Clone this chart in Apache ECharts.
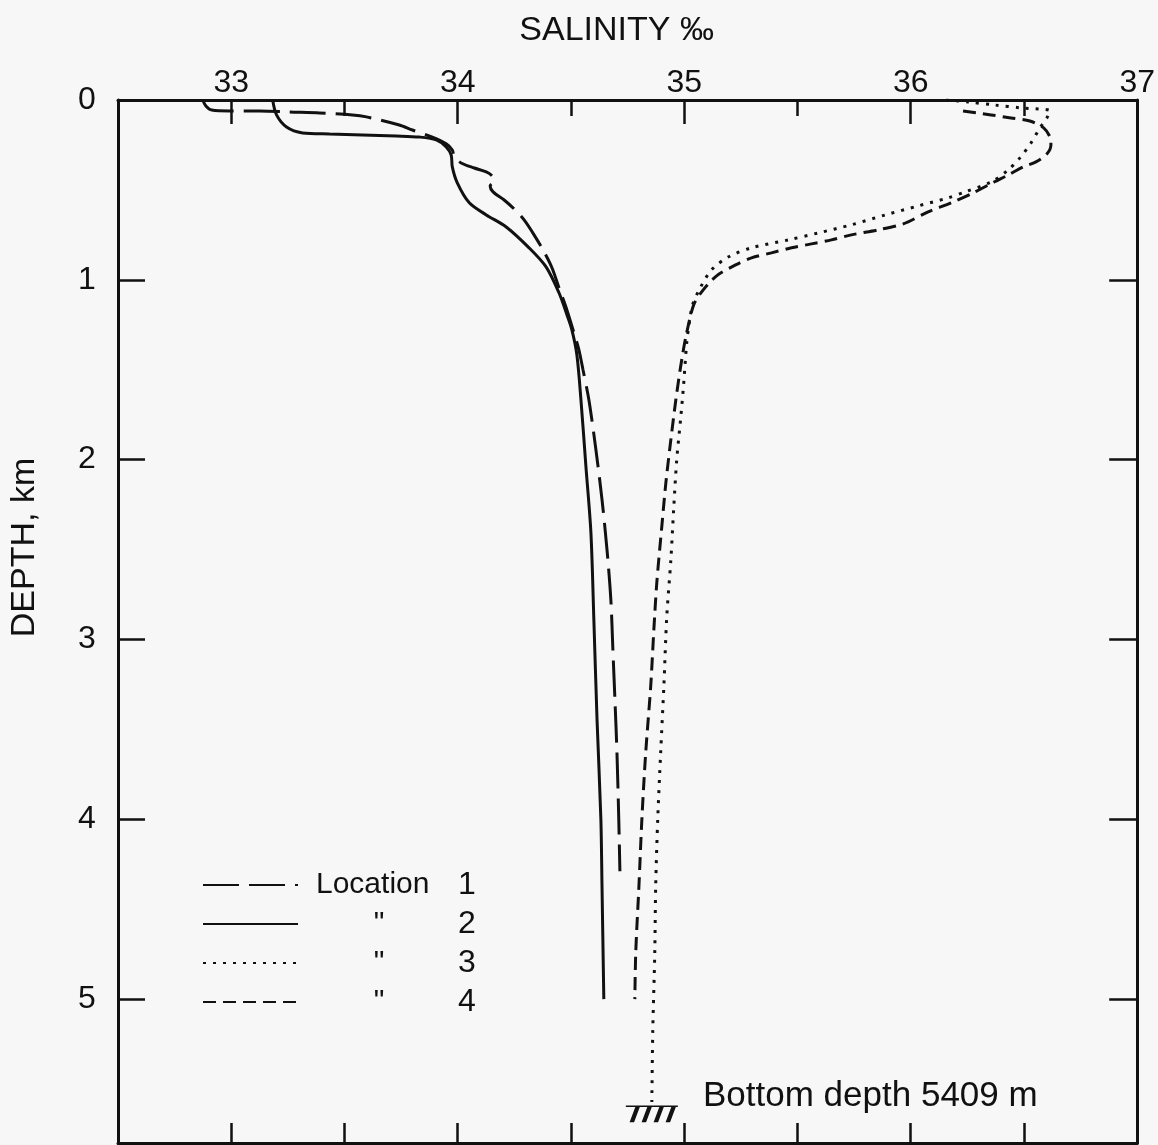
<!DOCTYPE html>
<html>
<head>
<meta charset="utf-8">
<script src="https://cdn.jsdelivr.net/npm/echarts@6/dist/echarts.min.js"></script>
<style>
  html, body { margin: 0; padding: 0; background: #f7f7f7; }
  #main { width: 1158px; height: 1145px; }
</style>
</head>
<body>
<div id="main"></div>
<script>
// ticks
const salinityLabels = [33, 34, 35, 36, 37];
const salinityMajor = [33, 34, 35, 36];
const salinityMinor = [33.5, 34.5, 35.5, 36.5];
const salinityBottom = [33, 33.5, 34, 34.5, 35, 35.5, 36, 36.5];
const depthLabels = [0, 1, 2, 3, 4, 5];
const depthTicks = [1, 2, 3, 4, 5];

// Location 1 (long dash)
const loc1Salinity = [32.874, 32.888, 32.914, 32.993, 33.126, 33.258, 33.39, 33.535, 33.597, 33.742, 33.80, 33.888, 33.949, 33.976, 33.985, 34.015, 34.073, 34.126, 34.152, 34.161, 34.143, 34.156, 34.205, 34.249, 34.293, 34.337, 34.381, 34.416, 34.447, 34.482, 34.513, 34.535, 34.553, 34.579, 34.61, 34.637, 34.659, 34.676, 34.685, 34.694, 34.703, 34.711, 34.716];
const loc1Depth = [0, 0.033, 0.056, 0.061, 0.061, 0.067, 0.072, 0.083, 0.094, 0.139, 0.167, 0.206, 0.244, 0.278, 0.317, 0.35, 0.378, 0.40, 0.422, 0.45, 0.478, 0.511, 0.556, 0.606, 0.667, 0.75, 0.844, 0.933, 1.044, 1.167, 1.294, 1.389, 1.50, 1.667, 1.944, 2.222, 2.50, 2.778, 3.056, 3.333, 3.628, 4.0, 4.289];

// Location 2 (solid)
const loc2Salinity = [33.183, 33.20, 33.244, 33.315, 33.434, 33.579, 33.729, 33.83, 33.905, 33.949, 33.971, 33.976, 33.998, 34.051, 34.126, 34.214, 34.315, 34.39, 34.447, 34.482, 34.504, 34.526, 34.544, 34.566, 34.588, 34.601, 34.615, 34.632, 34.637, 34.645];
const loc2Depth = [0, 0.083, 0.15, 0.183, 0.189, 0.194, 0.20, 0.206, 0.222, 0.261, 0.306, 0.372, 0.461, 0.572, 0.639, 0.706, 0.822, 0.928, 1.072, 1.194, 1.278, 1.417, 1.667, 2.039, 2.406, 2.889, 3.444, 4.0, 4.372, 5.0];

// Location 3 (dotted)
const loc3Salinity = [36.156, 36.253, 36.372, 36.487, 36.615, 36.601, 36.57, 36.531, 36.482, 36.43, 36.355, 36.24, 36.165, 36.033, 35.888, 35.738, 35.593, 35.46, 35.297, 35.196, 35.121, 35.073, 35.037, 35.02, 35.011, 34.998, 34.985, 34.967, 34.954, 34.941, 34.923, 34.91, 34.896, 34.883, 34.874, 34.87, 34.861, 34.857];
const loc3Depth = [0, 0.011, 0.028, 0.044, 0.061, 0.10, 0.156, 0.239, 0.322, 0.389, 0.456, 0.511, 0.544, 0.589, 0.639, 0.694, 0.739, 0.778, 0.822, 0.872, 0.944, 1.039, 1.139, 1.261, 1.35, 1.572, 1.761, 2.0, 2.261, 2.556, 2.872, 3.261, 3.628, 4.0, 4.372, 4.739, 5.183, 5.572];

// Location 4 (short dash)
const loc4Salinity = [36.231, 36.355, 36.443, 36.526, 36.588, 36.615, 36.619, 36.601, 36.553, 36.496, 36.43, 36.368, 36.275, 36.178, 36.077, 35.967, 35.857, 35.738, 35.65, 35.562, 35.474, 35.385, 35.297, 35.227, 35.143, 35.077, 35.042, 35.011, 34.989, 34.963, 34.941, 34.919, 34.901, 34.879, 34.866, 34.852, 34.83, 34.813, 34.80, 34.786, 34.782];
const loc4Depth = [0.061, 0.083, 0.10, 0.117, 0.156, 0.206, 0.25, 0.30, 0.344, 0.372, 0.417, 0.456, 0.517, 0.572, 0.622, 0.689, 0.722, 0.75, 0.778, 0.80, 0.822, 0.85, 0.878, 0.917, 0.978, 1.067, 1.139, 1.294, 1.444, 1.667, 1.889, 2.128, 2.372, 2.683, 2.944, 3.261, 3.628, 4.0, 4.372, 4.739, 5.0];

// sea bottom mark
const bottomSalinity = 34.857;
const bottomDepth = 5.64;

const ink = '#111';
const font = 'Liberation Sans';

function pairs(xs, ys) {
    return xs.map(function (x, i) { return [x, ys[i]]; });
}

function lineSeries(name, xs, ys, type) {
    return {
        name: name,
        type: 'line',
        data: pairs(xs, ys),
        symbol: 'none',
        showSymbol: false,
        smooth: 0.3,
        silent: true,
        itemStyle: { color: ink },
        lineStyle: { color: ink, width: 3, type: type }
    };
}

var xBase = { type: 'value', min: 32.5, max: 37, splitLine: { show: false } };
var yBase = { type: 'value', min: 0, max: 5.8, inverse: true, splitLine: { show: false } };
var axisLineStyle = { show: true, onZero: false, lineStyle: { color: ink, width: 3 } };

var series = [
    lineSeries('Location 1', loc1Salinity, loc1Depth, [36, 10]),
    lineSeries('Location 2', loc2Salinity, loc2Depth, 'solid'),
    lineSeries('Location 3', loc3Salinity, loc3Depth, [3, 7]),
    lineSeries('Location 4', loc4Salinity, loc4Depth, [13, 7])
];
series[2].markPoint = {
    silent: true,
    symbol: 'path://M0,0 L52,0 M12,0 L6,16 M24,0 L18,16 M36,0 L30,16 M48,0 L42,16',
    symbolSize: [52, 16],
    itemStyle: { color: 'none', borderColor: ink, borderWidth: 2.5 },
    label: { show: false },
    data: [{ coord: [bottomSalinity, bottomDepth] }]
};

var option = {
    backgroundColor: '#f7f7f7',
    animation: false,
    textStyle: { fontFamily: font, color: ink },
    grid: { left: 118, right: 18, top: 100, bottom: 2 },
    xAxis: [
        Object.assign({}, xBase, {
            position: 'top',
            name: 'SALINITY ‰',
            nameLocation: 'middle',
            nameGap: 52,
            nameTextStyle: { fontSize: 34, color: ink, fontFamily: font, padding: [0, 22, 0, 0] },
            axisLine: axisLineStyle,
            axisTick: { show: true, inside: true, length: 24, customValues: salinityMajor, lineStyle: { color: ink, width: 2.5 } },
            axisLabel: { show: true, customValues: salinityLabels, fontSize: 32, color: ink, fontFamily: font, margin: 1 }
        }),
        Object.assign({}, xBase, {
            position: 'bottom',
            axisLine: axisLineStyle,
            axisTick: { show: true, inside: true, length: 20, customValues: salinityBottom, lineStyle: { color: ink, width: 2.5 } },
            axisLabel: { show: false }
        }),
        Object.assign({}, xBase, {
            position: 'top',
            axisLine: { show: false, onZero: false },
            axisTick: { show: true, inside: true, length: 16, customValues: salinityMinor, lineStyle: { color: ink, width: 2.5 } },
            axisLabel: { show: false }
        })
    ],
    yAxis: [
        Object.assign({}, yBase, {
            position: 'left',
            name: 'DEPTH, km',
            nameLocation: 'middle',
            nameGap: 76,
            nameTextStyle: { fontSize: 34, color: ink, fontFamily: font, padding: [0, 0, 0, 148] },
            axisLine: axisLineStyle,
            axisTick: { show: true, inside: true, length: 27, customValues: depthTicks, lineStyle: { color: ink, width: 2.5 } },
            axisLabel: { show: true, customValues: depthLabels, fontSize: 32, color: ink, fontFamily: font, align: 'center', margin: 31, padding: [7, 0, 0, 0] }
        }),
        Object.assign({}, yBase, {
            position: 'right',
            axisLine: axisLineStyle,
            axisTick: { show: true, inside: true, length: 28, customValues: depthTicks, lineStyle: { color: ink, width: 2.5 } },
            axisLabel: { show: false }
        })
    ],
    legend: {
        orient: 'vertical',
        left: 197,
        top: 864,
        itemWidth: 95,
        itemHeight: 14,
        itemGap: 7,
        selectedMode: false,
        itemStyle: { opacity: 0 },
        textStyle: {
            fontSize: 32,
            fontFamily: font,
            color: ink,
            rich: {
                s: { width: 13 },
                a: { width: 126, align: 'left', fontSize: 30 },
                q: { width: 126, align: 'center', fontSize: 30 },
                n: { width: 50, align: 'center', fontSize: 32 }
            }
        },
        formatter: function (name) {
            var num = name.split(' ')[1];
            if (num === '1') return '{s|}{a|Location}{n|1}';
            return '{s|}{q|"}{n|' + num + '}';
        },
        data: ['Location 1', 'Location 2', 'Location 3', 'Location 4']
    },
    graphic: [{
        type: 'text',
        left: 703,
        top: 1079,
        silent: true,
        style: { text: 'Bottom depth 5409 m', fontSize: 35, fontFamily: font, fill: ink }
    }],
    series: series
};

var myChart = echarts.init(document.getElementById('main'));
myChart.setOption(option);
</script>
</body>
</html>
